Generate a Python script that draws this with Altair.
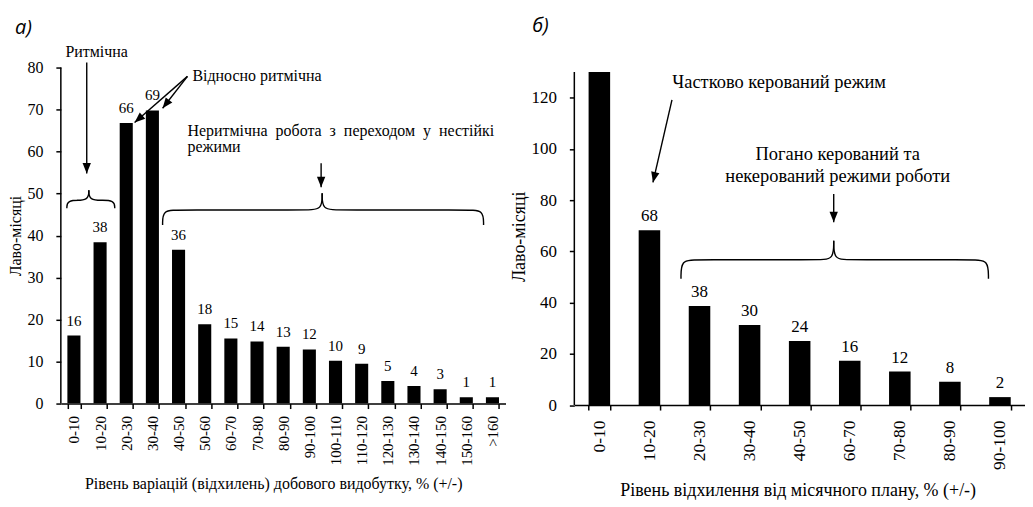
import math
import altair as alt
import pandas as pd

FONT = "Liberation Serif"

# ---------------- data: panel а) ----------------
cats_a = ["0-10", "10-20", "20-30", "30-40", "40-50", "50-60", "60-70", "70-80",
          "80-90", "90-100", "100-110", "110-120", "120-130", "130-140",
          "140-150", "150-160", ">160"]
vals_a = [16.2, 38.4, 66.8, 69.8, 36.6, 18.9, 15.5, 14.8, 13.5, 12.9, 10.2, 9.5,
          5.4, 4.2, 3.4, 1.5, 1.5]
labels_a = ["16", "38", "66", "69", "36", "18", "15", "14", "13", "12", "10", "9",
            "5", "4", "3", "1", "1"]
yticks_a = [0, 10, 20, 30, 40, 50, 60, 70, 80]
xtitle_a = "Рівень варіацій (відхилень) добового видобутку, % (+/-)"

# ---------------- data: panel б) ----------------
cats_b = ["0-10", "10-20", "20-30", "30-40", "40-50", "60-70", "70-80", "80-90", "90-100"]
vals_b = [132, 68.2, 38.7, 31.3, 25.0, 17.3, 13.1, 9.1, 3.1]
labels_b = ["", "68", "38", "30", "24", "16", "12", "8", "2"]
yticks_b = [0, 20, 40, 60, 80, 100, 120]
xtitle_b = "Рівень відхилення від місячного плану, % (+/-)"

ytitle = "Лаво-місяці"

# ---------------- annotations (data units: x = category index, y = value) ----------------
NB = "\u00a0 "
center_texts_a = ["Ритмічна"]
center_x_a = [1.37]
center_y_a = [83.6]
left_texts_a = ["Відносно ритмічна",
                NB.join(["Неритмічна", "робота", "з", "переходом", "у", "нестійкі"]),
                "режими"]
left_x_a = [5.03, 4.84, 4.84]
left_y_a = [78.1, 65.0, 61.0]
arrows_a = [(0.99, 81.2, 0.99, 54.8), (4.84, 77.9, 2.82, 66.9),
            (4.84, 77.9, 3.89, 70.3), (9.95, 57.2, 9.95, 51.5)]
braces_a = [(0.23, 1.07, 2.06, 46.5, 48.4, 50.8), (3.89, 9.99, 16.16, 42.5, 46.1, 50.1)]
plabel_a = ("а)", -1.75, 89.5)

center_texts_b = ["Частково керований режим", "Погано керований та", "некерований режими роботи"]
center_x_b = [4.09, 5.26, 5.26]
center_y_b = [126.0, 97.9, 89.4]
left_texts_b = []
left_x_b = []
left_y_b = []
arrows_b = [(1.95, 119.1, 1.57, 86.9), (5.18, 82.4, 5.18, 71.4)]
braces_b = [(2.13, 5.18, 8.27, 49.3, 56.7, 64.1)]
plabel_b = ("б)", -0.84, 148.1)

HEAD = "M-0.4,-1L0.4,-1L0,0Z"


def panel(cats, vals, labels, yticks, ymax, W, H_axis, extra_px, pad_inner, xtitle,
          title_x, fs_ylab, fs_xlab, fs_title, fs_val, fs_ann, ct, cx, cy, lt, lx, ly,
          arrows, braces, plabel, rx, lab_pad_y, title_pad_y, lab_pad_x,
          title_pad_x, val_dy):
    n = len(cats)
    H = H_axis + extra_px
    pxx = W / n
    pxy = H_axis / ymax
    ytop = ymax + extra_px / pxy
    xq = alt.Scale(domain=[0, n], nice=False, zero=False)
    yscale = alt.Scale(domain=[0, ytop], nice=False, zero=True)
    yaxis = alt.Axis(values=yticks, title=ytitle, labelFontSize=fs_ylab,
                     titleFontSize=fs_title, labelPadding=lab_pad_y,
                     titlePadding=title_pad_y, domain=False)

    def Y(field):
        return alt.Y(field, scale=yscale, axis=yaxis)

    bars_df = pd.DataFrame({"cat": cats, "y": vals, "lab": labels})
    band = alt.Scale(paddingInner=pad_inner, paddingOuter=pad_inner / 2)
    xband = alt.X("cat:N", sort=cats, scale=band,
                  axis=alt.Axis(title=xtitle, labelAngle=270, tickBand="extent",
                                labelFontSize=fs_xlab, titleFontSize=fs_title,
                                labelPadding=lab_pad_x, titlePadding=title_pad_x,
                                titleX=title_x))
    # bars are cut at the top of the value axis, as in the original figure
    bars = alt.Chart(bars_df).transform_calculate(
        yc=f"min(datum.y, {ymax})").mark_bar(color="black", clip=True).encode(
        x=xband, y=Y("yc:Q"))
    vlabels = alt.Chart(bars_df).mark_text(
        baseline="alphabetic", dy=val_dy, font=FONT, fontSize=fs_val, color="black",
        clip=True).encode(
        x=alt.X("cat:N", sort=cats, scale=band, axis=None),
        y=Y("y:Q"), text="lab:N")

    # value-axis line (0 .. ymax)
    axis_df = pd.DataFrame({"y0": [0], "y1": [ymax]})
    axis_line = alt.Chart(axis_df).mark_rule(color="black", strokeWidth=1.5).encode(
        x=alt.value(0), y=Y("y0:Q"), y2="y1:Q")

    # braces
    rows = []
    for bi, (x0, xc, x1, ye, yf, yc) in enumerate(braces):
        left = [(x0, ye), (x0, yf), (x0 + rx, yf), (xc - rx, yf), (xc, yf), (xc, yc)]
        right = [(x1, ye), (x1, yf), (x1 - rx, yf), (xc + rx, yf), (xc, yf), (xc, yc)]
        for side, pts in (("l", left), ("r", right)):
            for k, (x, y) in enumerate(pts):
                rows.append({"part": f"{bi}{side}", "k": k, "x": x, "y": y})
    brace_df = pd.DataFrame(rows)
    brace_layer = alt.Chart(brace_df).mark_line(
        interpolate="basis", color="black", strokeWidth=1.4).encode(
        x=alt.X("x:Q", scale=xq, axis=None), y=Y("y:Q"),
        detail="part:N", order="k:Q")

    # arrows
    arr_df = pd.DataFrame({
        "x": [a[0] for a in arrows], "y": [a[1] for a in arrows],
        "x2": [a[2] for a in arrows], "y2": [a[3] for a in arrows],
    })
    angs = []
    for a in arrows:
        dx = (a[2] - a[0]) * pxx
        dy = -(a[3] - a[1]) * pxy
        angs.append(math.degrees(math.atan2(-dx, dy)) % 360)
    arr_df["ang"] = angs
    shafts = alt.Chart(arr_df).mark_rule(color="black", strokeWidth=1.4).encode(
        x=alt.X("x:Q", scale=xq, axis=None), y=Y("y:Q"),
        x2="x2:Q", y2="y2:Q")
    heads = alt.Chart(arr_df).mark_point(
        shape=HEAD, filled=True, color="black", opacity=1, size=440,
        strokeWidth=0).encode(
        x=alt.X("x2:Q", scale=xq, axis=None), y=Y("y2:Q"),
        angle=alt.Angle("ang:Q", scale=None))

    layers = [bars, vlabels, axis_line, brace_layer, shafts, heads]

    if ct:
        cdf = pd.DataFrame({"t": ct, "x": cx, "y": cy})
        layers.append(alt.Chart(cdf).mark_text(
            align="center", baseline="middle", font=FONT, fontSize=fs_ann,
            color="black").encode(
            x=alt.X("x:Q", scale=xq, axis=None), y=Y("y:Q"), text="t:N"))
    if lt:
        ldf = pd.DataFrame({"t": lt, "x": lx, "y": ly})
        layers.append(alt.Chart(ldf).mark_text(
            align="left", baseline="middle", font=FONT, fontSize=fs_ann,
            color="black").encode(
            x=alt.X("x:Q", scale=xq, axis=None), y=Y("y:Q"), text="t:N"))
    pdf = pd.DataFrame({"t": [plabel[0]], "x": [plabel[1]], "y": [plabel[2]]})
    layers.append(alt.Chart(pdf).mark_text(
        align="left", baseline="middle", font="Open Sans", fontStyle="italic",
        fontSize=20, color="black").encode(
        x=alt.X("x:Q", scale=xq, axis=None), y=Y("y:Q"), text="t:N"))

    return alt.layer(*layers).resolve_scale(x="independent").properties(
        width=W, height=H)


left = panel(cats_a, vals_a, labels_a, yticks_a, 80, 446, 337, 0, 0.5, xtitle_a, 213,
             16, 15, 16, 15, 16, center_texts_a, center_x_a, center_y_a,
             left_texts_a, left_x_a, left_y_a, arrows_a, braces_a, plabel_a, 0.6,
             13, 3, 7, 10, -10)
right = panel(cats_b, vals_b, labels_b, yticks_b, 130, 452, 334, 4.5, 0.57, xtitle_b,
              224, 17, 17.5, 18, 17, 18.5, center_texts_b, center_x_b, center_y_b,
              left_texts_b, left_x_b, left_y_b, arrows_b, braces_b, plabel_b, 0.3,
              13, 2, 10, 12, -9)

chart = alt.hconcat(left, right, spacing=5).properties(
    padding={"left": 0, "top": 6, "right": 0, "bottom": 0},
    background="white",
).configure_view(stroke=None).configure_axis(
    grid=False, domainColor="black", tickColor="black", labelColor="black",
    titleColor="black", labelFont=FONT, titleFont=FONT, titleFontWeight="normal",
    domainWidth=1.5, tickWidth=1.5, tickSize=5,
)

chart.save("out.html", embed_options={"renderer": "svg", "actions": False})
